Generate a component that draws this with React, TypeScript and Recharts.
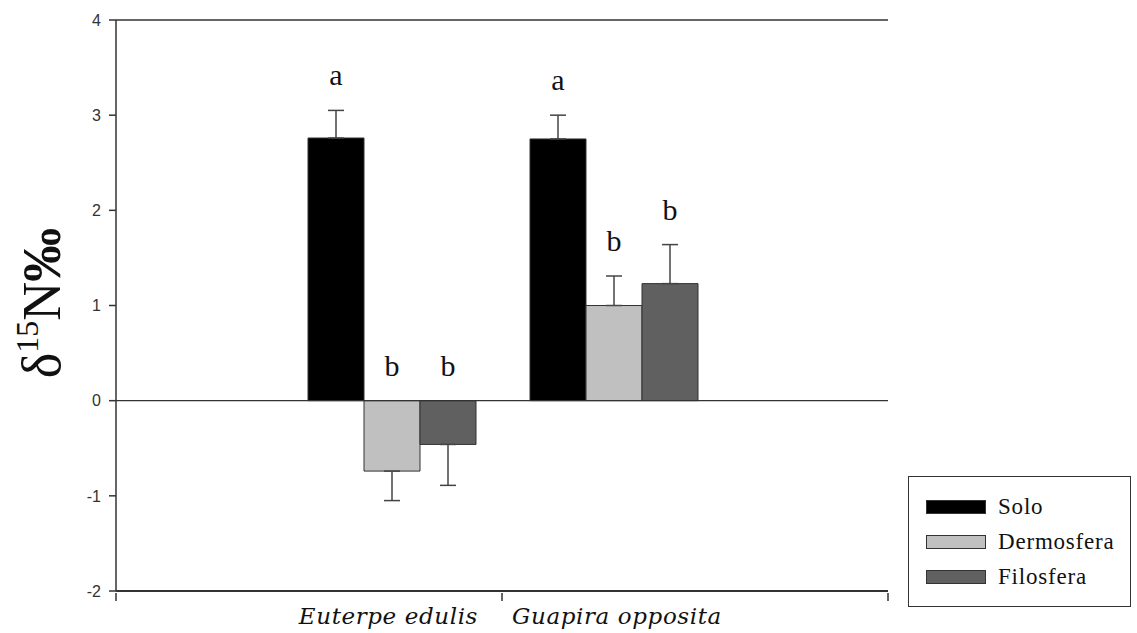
import { BarChart, Bar, XAxis, YAxis, ErrorBar, ReferenceLine, LabelList } from 'recharts'

const categories = ['Euterpe edulis', 'Guapira opposita']
const solo = [2.76, 2.75]
const soloErr = [0.29, 0.25]
const dermosfera = [-0.74, 1.0]
const dermosferaErr = [0.31, 0.31]
const filosfera = [-0.46, 1.23]
const filosferaErr = [0.43, 0.41]
const soloLetters = ['a', 'a']
const dermosferaLetters = ['b', 'b']
const filosferaLetters = ['b', 'b']
const yTicks = [-2, -1, 0, 1, 2, 3, 4]

const data = categories.map((name, i) => ({
  name,
  solo: solo[i],
  soloErr: soloErr[i],
  soloLetter: soloLetters[i],
  dermosfera: dermosfera[i],
  dermosferaErr: dermosferaErr[i],
  dermosferaLetter: dermosferaLetters[i],
  filosfera: filosfera[i],
  filosferaErr: filosferaErr[i],
  filosferaLetter: filosferaLetters[i],
}))

const series = [
  { key: 'solo', name: 'Solo', fill: '#000000' },
  { key: 'dermosfera', name: 'Dermosfera', fill: '#c0c0c0' },
  { key: 'filosfera', name: 'Filosfera', fill: '#606060' },
]

const W = 1137
const H = 633
const margin = { top: 20, right: 249, bottom: 0, left: 54 }
const Y_AXIS_W = 62
const PLOT_LEFT = margin.left + Y_AXIS_W
const PLOT_RIGHT = W - margin.right
const PLOT_MID = (PLOT_LEFT + PLOT_RIGHT) / 2
const AXIS = '#333333'
const SERIF = '"Liberation Serif", "Times New Roman", serif'

// one-sided error: up for positive means, down for negative ones
const errorOf = (key: string) => (d: any) => (d[key] >= 0 ? [0, d[key + 'Err']] : [d[key + 'Err'], 0])

function letterLabel(key: string) {
  return (props: any) => {
    const { x, y, width, height, index } = props
    const d = data[index]
    const v = d[key]
    let top = Math.min(y, y + height)
    if (v > 0) {
      const ppu = Math.abs(height) / v
      top = top - d[key + 'Err'] * ppu
    }
    return (
      <text x={x + width / 2} y={top - 25} textAnchor="middle" fontFamily={SERIF} fontSize={30} fill="#111">
        {d[key + 'Letter']}
      </text>
    )
  }
}

// category ticks sit on the group boundaries, names hug the middle divider
function CategoryTick(props: any) {
  const { y, index } = props
  const top = y - 8
  const edge = index === 0 ? PLOT_LEFT : PLOT_RIGHT
  return (
    <g>
      <line x1={edge} x2={edge} y1={top} y2={top + 8} stroke={AXIS} strokeWidth={1.5} />
      {index === 0 && <line x1={PLOT_MID} x2={PLOT_MID} y1={top} y2={top + 8} stroke={AXIS} strokeWidth={1.5} />}
      <text
        x={index === 0 ? PLOT_MID - 24 : PLOT_MID + 10}
        y={top + 31}
        textAnchor={index === 0 ? 'end' : 'start'}
        fontFamily='"DejaVu Serif", serif'
        fontStyle="italic"
        fontSize={23}
        letterSpacing={0.6}
        fill="#111"
      >
        {categories[index]}
      </text>
    </g>
  )
}

function YLabel() {
  const cx = 60
  const cy = 303
  return (
    <text x={cx} y={cy} transform={`rotate(-90 ${cx} ${cy})`} textAnchor="middle" fontFamily={SERIF} fontSize={54} fill="#111">
      <tspan>δ</tspan>
      <tspan fontSize={32} dy={-22}>15</tspan>
      <tspan dy={22}>N</tspan>
      <tspan fontWeight="bold">‰</tspan>
    </text>
  )
}

function ChartLegend() {
  return (
    <div
      style={{
        position: 'absolute',
        left: 908,
        top: 476,
        width: 223,
        height: 131,
        border: '1px solid #333',
        boxSizing: 'border-box',
        fontFamily: "'Liberation Serif', serif",
        fontSize: 23,
        letterSpacing: 0.8,
        color: '#111',
        padding: '12px 0 0 17px',
      }}
    >
      {series.map((s) => (
        <div key={s.key} style={{ display: 'flex', alignItems: 'center', height: 35 }}>
          <span style={{ width: 60, height: 14, background: s.fill, border: '1.5px solid #333', boxSizing: 'border-box', marginRight: 12 }} />
          <span>{s.name}</span>
        </div>
      ))}
    </div>
  )
}

export default function App() {
  return (
    <div style={{ position: 'absolute', left: 0, top: 0, width: W, height: H, background: '#fff' }}>
      <BarChart width={W} height={H} data={data} margin={margin} barGap={0} barSize={56}>
        <XAxis
          dataKey="name"
          height={42}
          padding={{ left: 165, right: 163 }}
          axisLine={{ stroke: AXIS, strokeWidth: 2 }}
          tickLine={false}
          tickSize={8}
          interval={0}
          tick={<CategoryTick />}
        />
        <YAxis
          domain={[-2, 4]}
          ticks={yTicks}
          width={Y_AXIS_W}
          stroke={AXIS}
          strokeWidth={1.5}
          tickSize={7}
          tickMargin={8}
          tick={{ fontFamily: '"Liberation Sans", Arial, sans-serif', fontSize: 16, fill: '#333' }}
          label={{ content: <YLabel /> }}
        />
        <YAxis yAxisId="right" orientation="right" domain={[-2, 4]} width={0} tick={false} tickLine={false} stroke={AXIS} strokeWidth={1.5} />
        <ReferenceLine y={4} stroke={AXIS} strokeWidth={1.5} />
        <ReferenceLine y={0} stroke={AXIS} strokeWidth={1.2} />
        {series.map((s) => (
          <Bar key={s.key} dataKey={s.key} fill={s.fill} stroke="#333" strokeWidth={1} isAnimationActive={false}>
            <ErrorBar dataKey={errorOf(s.key)} width={8} stroke="#444" strokeWidth={1.5} />
            <LabelList dataKey={s.key} content={letterLabel(s.key)} />
          </Bar>
        ))}
      </BarChart>
      <ChartLegend />
    </div>
  )
}
